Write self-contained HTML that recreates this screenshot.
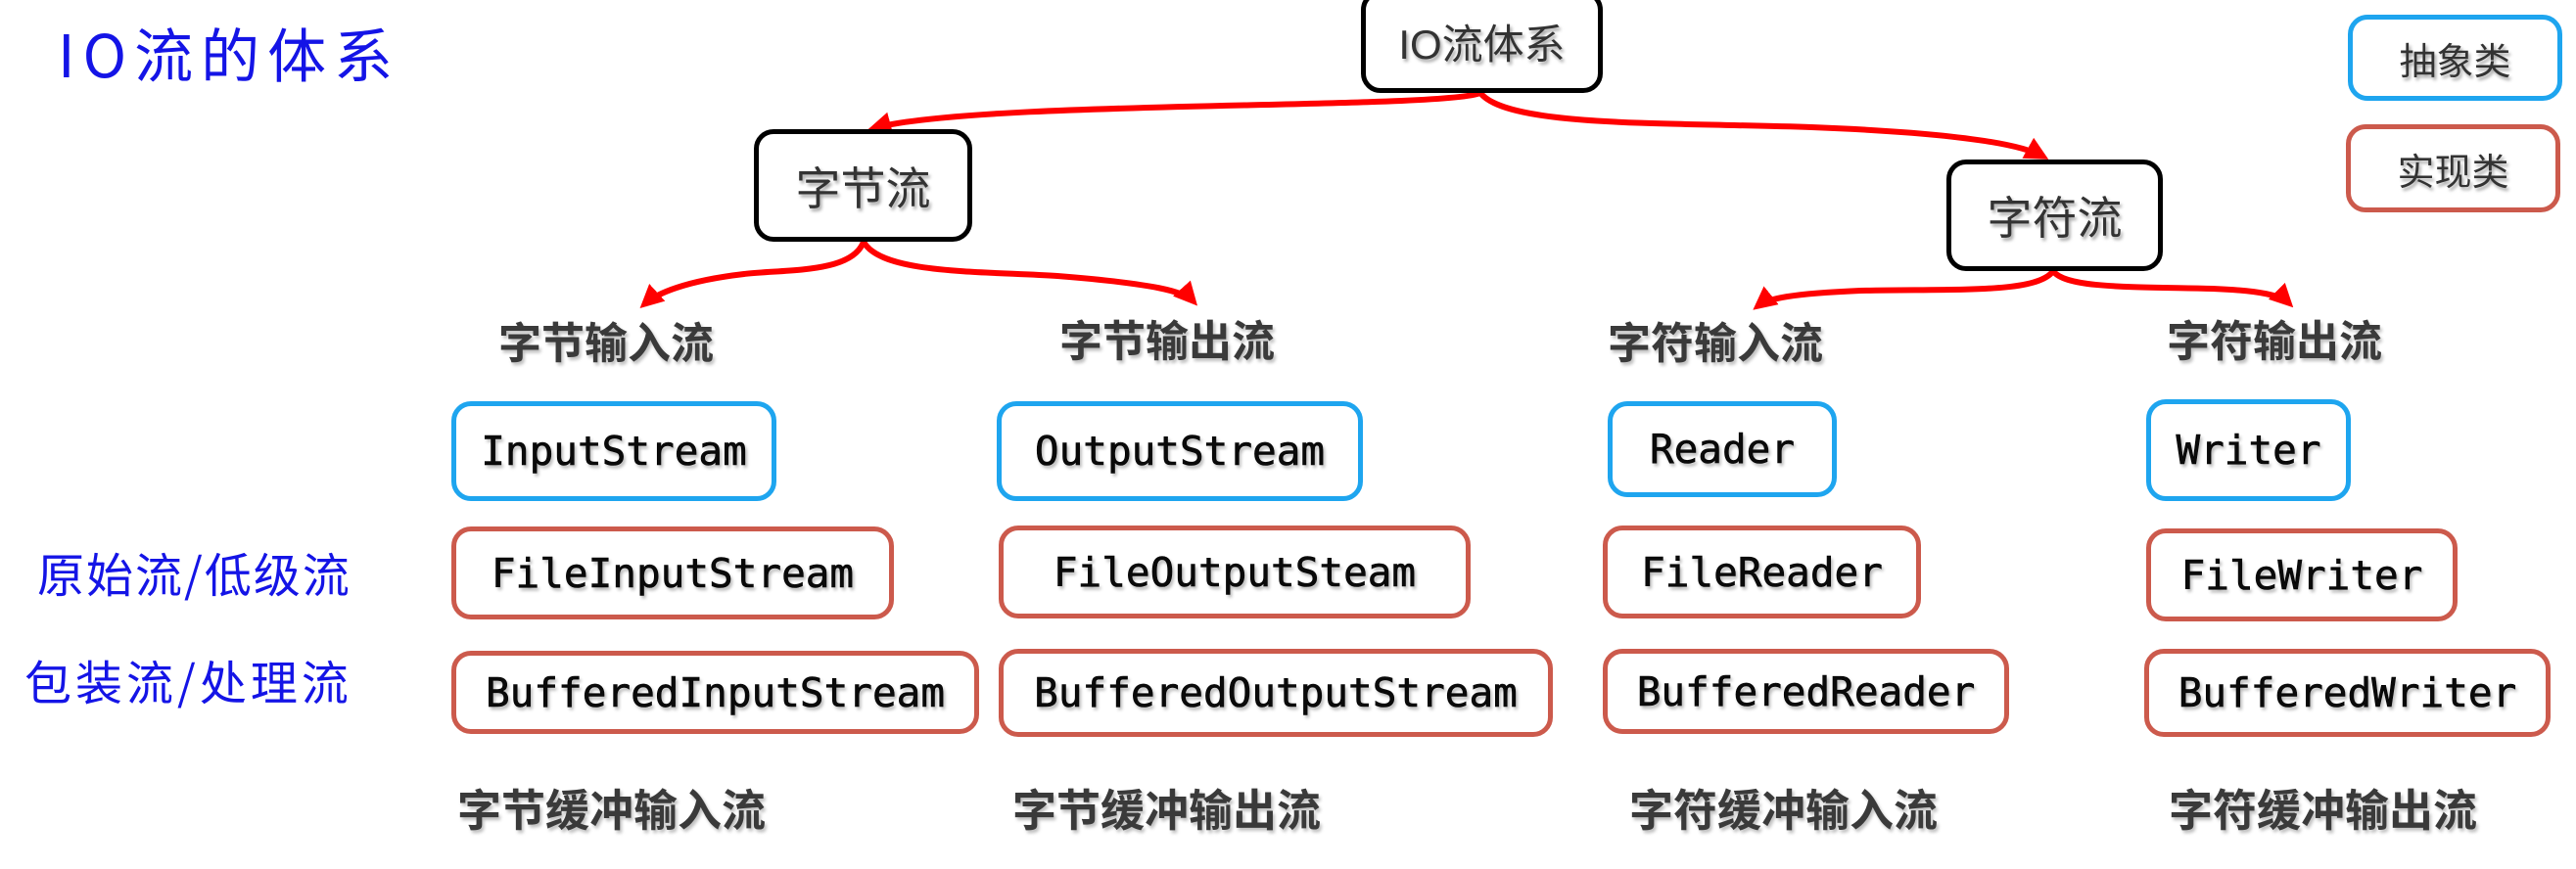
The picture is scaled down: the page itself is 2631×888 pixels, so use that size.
<!DOCTYPE html>
<html><head><meta charset="utf-8"><style>
html,body{margin:0;padding:0;background:#fff;}
body{width:2631px;height:888px;position:relative;overflow:hidden;font-family:"Liberation Sans","Noto Sans CJK SC",sans-serif;}
.b{position:absolute;box-sizing:border-box;border-radius:20px;background:#fff;display:flex;align-items:center;justify-content:center;}
.k{border:5px solid #000;color:#333;font-size:46px;text-shadow:2px 3px 3px rgba(0,0,0,.35);}
.a{border:5px solid #1ea5ef;}
.r{border:5px solid #cc5a4c;}
.m{font-family:"DejaVu Sans Mono","Liberation Mono",monospace;font-size:41px;color:#0a0a0a;text-shadow:2px 3px 3px rgba(0,0,0,.3);-webkit-text-stroke:0.6px #000;}
.l{position:absolute;font-weight:bold;color:#3a3a3a;font-size:44px;white-space:nowrap;line-height:1;text-shadow:2px 3px 3px rgba(0,0,0,.25);}
.c{color:#333;font-size:38px;text-shadow:2px 3px 3px rgba(0,0,0,.35);}
.blue{position:absolute;color:#1414e6;white-space:nowrap;line-height:1;font-family:"Noto Sans CJK SC",sans-serif;}
</style></head><body>
<svg width="2631" height="888" style="position:absolute;left:0;top:0">
<defs><marker id="ar" markerWidth="4" markerHeight="4" refX="3" refY="2" orient="auto" markerUnits="strokeWidth"><path d="M0,0 L4,2 L0,4 z" fill="#f00"/></marker></defs>
<g fill="none" stroke="#f00" stroke-width="6" marker-end="url(#ar)">
<path d="M1512,95 C1470,112 1000,102 892,131"/>
<path d="M1512,95 C1540,130 1700,125 1850,130 C1980,135 2060,145 2087,160"/>
<path d="M882,247 C870,280 800,275 760,280 C700,287 670,300 658,311"/>
<path d="M882,247 C900,280 1000,277 1080,282 C1180,290 1210,298 1219,308"/>
<path d="M2097,277 C2080,300 2000,295 1900,297 C1830,300 1805,305 1795,313"/>
<path d="M2097,277 C2110,295 2180,293 2260,295 C2310,297 2330,302 2338,310"/>
</g></svg>
<div class="blue" style="left:59px;top:24px;font-size:60px;letter-spacing:8px;">IO流的体系</div>
<div class="blue" style="left:38px;top:560px;font-size:48px;letter-spacing:2px;">原始流/低级流</div>
<div class="blue" style="left:25px;top:670px;font-size:48px;letter-spacing:4px;">包装流/处理流</div>

<div class="b k" style="left:1390px;top:-10px;width:247px;height:105px;font-size:42px;">IO流体系</div>
<div class="b k" style="left:770px;top:132px;width:223px;height:115px;">字节流</div>
<div class="b k" style="left:1988px;top:163px;width:221px;height:114px;">字符流</div>
<div class="b a c" style="left:2398px;top:15px;width:219px;height:88px;">抽象类</div>
<div class="b r c" style="left:2396px;top:127px;width:219px;height:90px;">实现类</div>

<div class="l" style="left:509px;top:330px;">字节输入流</div>
<div class="l" style="left:1082px;top:328px;">字节输出流</div>
<div class="l" style="left:1642px;top:330px;">字符输入流</div>
<div class="l" style="left:2213px;top:328px;">字符输出流</div>

<div class="b a m" style="left:461px;top:410px;width:332px;height:102px;">InputStream</div>
<div class="b a m" style="left:1018px;top:410px;width:374px;height:102px;">OutputStream</div>
<div class="b a m" style="left:1642px;top:410px;width:234px;height:98px;">Reader</div>
<div class="b a m" style="left:2192px;top:408px;width:209px;height:104px;">Writer</div>

<div class="b r m" style="left:461px;top:538px;width:452px;height:95px;">FileInputStream</div>
<div class="b r m" style="left:1020px;top:537px;width:482px;height:95px;">FileOutputSteam</div>
<div class="b r m" style="left:1637px;top:537px;width:325px;height:95px;">FileReader</div>
<div class="b r m" style="left:2192px;top:540px;width:318px;height:95px;">FileWriter</div>

<div class="b r m" style="left:461px;top:665px;width:539px;height:85px;">BufferedInputStream</div>
<div class="b r m" style="left:1020px;top:663px;width:566px;height:90px;">BufferedOutputStream</div>
<div class="b r m" style="left:1637px;top:663px;width:415px;height:87px;">BufferedReader</div>
<div class="b r m" style="left:2190px;top:663px;width:415px;height:90px;">BufferedWriter</div>

<div class="l" style="left:467px;top:806px;font-size:45px;">字节缓冲输入流</div>
<div class="l" style="left:1034px;top:806px;font-size:45px;">字节缓冲输出流</div>
<div class="l" style="left:1664px;top:806px;font-size:45px;">字符缓冲输入流</div>
<div class="l" style="left:2215px;top:806px;font-size:45px;">字符缓冲输出流</div>
</body></html>
